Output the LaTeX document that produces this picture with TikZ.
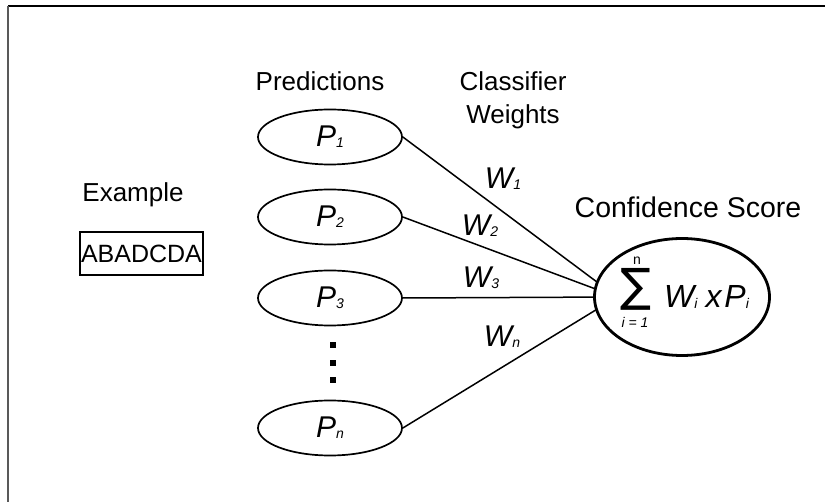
\documentclass[tikz,border=0pt]{standalone}
\usepackage{fontspec}
\setmainfont{Liberation Sans}
\newfontfamily\symfont{DejaVu Sans}
\usetikzlibrary{shapes.geometric}
\newcommand{\sbs}[1]{\raisebox{-1pt}{\fontsize{14}{14}\selectfont #1}}
\begin{document}
\begin{tikzpicture}[x=1pt,y=-1pt,
  lbl/.style={font=\fontsize{26}{30}\selectfont, inner sep=0pt, anchor=base},
  pnode/.style={ellipse, draw, line width=1.7pt, minimum width=144pt, minimum height=55pt,
    inner sep=0pt, font=\fontsize{30}{30}\selectfont\itshape},
  wlbl/.style={font=\fontsize{30}{30}\selectfont\itshape, inner sep=0pt, anchor=base},
  conn/.style={line width=1.5pt},
  dotsq/.style={rectangle, fill=black, minimum size=5.5pt, inner sep=0pt},
  frame/.style={line width=2pt}
]
\useasboundingbox (0,0) rectangle (825,502);
% frame
\coordinate (ftl) at (7.5,6.5);
\coordinate (ftr) at (825,6.5);
\coordinate (fbl) at (7.5,502);
\draw[frame] (ftr) -- (ftl);
\draw[frame, black!65] (ftl) -- (fbl);

% titles
\node[lbl] (tpred) at (320,91) {Predictions};
\node[lbl] (tclass) at (513,91) {Classifier};
\node[lbl] (tweights) at (513,124) {Weights};
\node[lbl] (texample) at (133,202) {Example};
\node[lbl, font=\fontsize{28.5}{30}\selectfont] (tconf) at (688,218) {Confidence Score};

% example box
\node[draw, line width=1.6pt, minimum width=123pt, minimum height=43pt, inner sep=0pt,
  font=\fontsize{25}{30}\selectfont] (ex) at (141.5,253.5) {ABADCDA};

% prediction nodes
\node[pnode] (p1) at (330,137) {P\sbs{1}};
\node[pnode] (p2) at (330,217) {P\sbs{2}};
\node[pnode] (p3) at (330,298) {P\sbs{3}};
\node[pnode] (pn) at (330,428) {P\sbs{n}};

% dots
\node[dotsq] (d1) at (333,345) {};
\node[dotsq] (d2) at (333,363) {};
\node[dotsq] (d3) at (333,380) {};

% connectors
\coordinate (focus) at (617,297);
\draw[conn] (p1.east) -- (focus);
\draw[conn] (p2.east) -- (focus);
\draw[conn] (p3.east) -- (focus);
\draw[conn] (pn.east) -- (focus);

% weight labels
\node[wlbl] (w1) at (503,189) {W\sbs{1}};
\node[wlbl] (w2) at (480,236) {W\sbs{2}};
\node[wlbl] (w3) at (481,288) {W\sbs{3}};
\node[wlbl] (wn) at (502,347) {W\sbs{n}};

% confidence node
\node[ellipse, draw, fill=white, line width=2.8pt, minimum width=175pt, minimum height=117pt,
  inner sep=0pt] (score) at (682,297) {};
\node[inner sep=0pt, font=\symfont\fontsize{46}{46}\selectfont] (sigma) at (636,289) {∑};
\node[inner sep=0pt, font=\fontsize{14}{14}\selectfont] (supn) at (637,261) {n};
\node[inner sep=0pt, font=\fontsize{14}{14}\selectfont\itshape] (subi) at (635,322) {i = 1};
\node[inner sep=0pt, anchor=base west, font=\fontsize{32}{32}\selectfont\itshape] (formula) at (664,308)
  {W\sbs{i}\hspace*{8pt}x\hspace*{3pt}P\sbs{i}};
\end{tikzpicture}
\end{document}
